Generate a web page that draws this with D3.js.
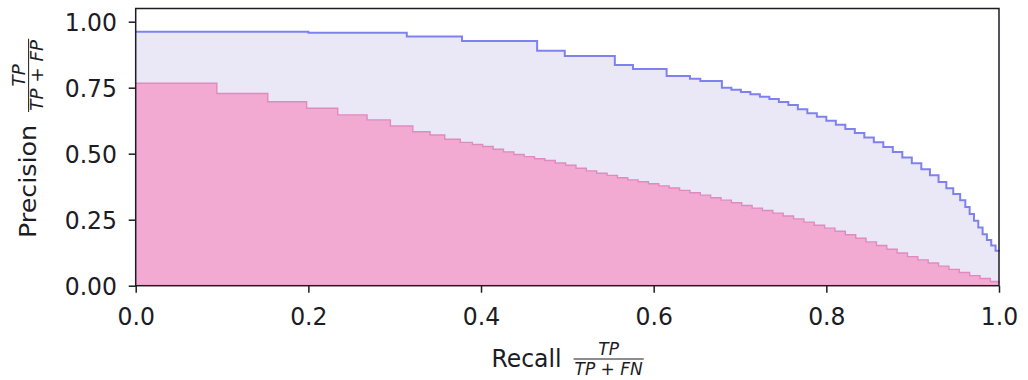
<!DOCTYPE html>
<html>
<head>
<meta charset="utf-8">
<script src="https://cdn.jsdelivr.net/npm/d3@7"></script>
<style>
  html, body { margin: 0; padding: 0; background: #fff; }
  svg { display: block; }
  text { font-family: "DejaVu Sans", sans-serif; fill: #1c1c24; }
</style>
</head>
<body>
<svg id="chart"></svg>
<script>
// upper curve (blue step, lavender fill)
const recallBlue = [0.000, 0.200, 0.314, 0.378, 0.465, 0.497, 0.555, 0.576, 0.615, 0.642,
  0.654, 0.679, 0.690, 0.701, 0.712, 0.723, 0.734, 0.745, 0.756, 0.767,
  0.778, 0.789, 0.800, 0.811, 0.822, 0.833, 0.844, 0.855, 0.866, 0.877,
  0.888, 0.899, 0.910, 0.920, 0.930, 0.939, 0.947, 0.955, 0.961, 0.966,
  0.971, 0.976, 0.981, 0.986, 0.991, 0.996, 1.000];
const precisionBlue = [0.962, 0.958, 0.944, 0.927, 0.890, 0.870, 0.836, 0.821, 0.794, 0.784,
  0.775, 0.750, 0.742, 0.734, 0.725, 0.716, 0.707, 0.696, 0.684, 0.668,
  0.653, 0.640, 0.625, 0.610, 0.594, 0.578, 0.561, 0.543, 0.525, 0.506,
  0.486, 0.464, 0.441, 0.418, 0.393, 0.369, 0.347, 0.324, 0.298, 0.272,
  0.246, 0.220, 0.195, 0.173, 0.152, 0.132, 0.130];

// lower curve (pink)
const recallPink = [0.000, 0.094, 0.153, 0.198, 0.234, 0.268, 0.295, 0.321, 0.341, 0.358,
  0.376, 0.390, 0.402, 0.414, 0.426, 0.438, 0.450, 0.462, 0.474, 0.486,
  0.498, 0.510, 0.522, 0.534, 0.546, 0.558, 0.570, 0.582, 0.594, 0.606,
  0.618, 0.630, 0.642, 0.654, 0.666, 0.678, 0.690, 0.702, 0.714, 0.726,
  0.738, 0.750, 0.762, 0.774, 0.786, 0.798, 0.810, 0.822, 0.834, 0.846,
  0.858, 0.870, 0.882, 0.894, 0.906, 0.918, 0.930, 0.942, 0.954, 0.966,
  0.978, 0.990, 1.000];
const precisionPink = [0.767, 0.728, 0.697, 0.672, 0.647, 0.628, 0.605, 0.583, 0.571, 0.555,
  0.543, 0.535, 0.527, 0.517, 0.507, 0.497, 0.489, 0.481, 0.474, 0.465,
  0.456, 0.445, 0.435, 0.426, 0.418, 0.409, 0.401, 0.394, 0.386, 0.378,
  0.370, 0.361, 0.352, 0.343, 0.333, 0.324, 0.314, 0.304, 0.294, 0.285,
  0.275, 0.264, 0.253, 0.241, 0.229, 0.218, 0.206, 0.193, 0.180, 0.166,
  0.152, 0.138, 0.124, 0.110, 0.098, 0.086, 0.074, 0.062, 0.050, 0.038,
  0.027, 0.016, 0.008];

const xTicks = [0, 0.2, 0.4, 0.6, 0.8, 1.0];
const yTicks = [0, 0.25, 0.5, 0.75, 1.0];

const width = 1028, height = 380;
const plot = {left: 135.7, right: 999, top: 8.5, bottom: 285.7};
const stretch = 1.08;   // the picture's text is a little taller than wide
const fontSize = 23.5;

const svg = d3.select('#chart').attr('width', width).attr('height', height);

const x = d3.scaleLinear().domain([0, 1]).range([plot.left, plot.right]);
const y = d3.scaleLinear().domain([0, 1.05]).range([plot.bottom, plot.top]);

const blue = recallBlue.map((r, i) => ({r: r, p: precisionBlue[i]}));
const pink = recallPink.map((r, i) => ({r: r, p: precisionPink[i]}));

const area = d3.area()
  .curve(d3.curveStepAfter)
  .x(d => x(d.r))
  .y0(y(0))
  .y1(d => y(d.p));
const line = d3.line()
  .curve(d3.curveStepAfter)
  .x(d => x(d.r))
  .y(d => y(d.p));

svg.append('path').datum(blue).attr('d', area).attr('fill', '#eae8f7');
svg.append('path').datum(blue).attr('d', line)
  .attr('fill', 'none').attr('stroke', '#7f82ee').attr('stroke-width', 2);

svg.append('path').datum(pink).attr('d', area).attr('fill', '#f2aad3');
svg.append('path').datum(pink).attr('d', line)
  .attr('fill', 'none').attr('stroke', '#de8cc0').attr('stroke-width', 1.4);

// axes
const xAxis = svg.append('g')
  .attr('transform', `translate(0,${plot.bottom})`)
  .call(d3.axisBottom(x).tickValues(xTicks).tickSize(7).tickFormat(d3.format('.1f')));
const yAxis = svg.append('g')
  .attr('transform', `translate(${plot.left},0)`)
  .call(d3.axisLeft(y).tickValues(yTicks).tickSize(7).tickFormat(d3.format('.2f')));

[xAxis, yAxis].forEach(a => {
  a.select('.domain').remove();
  a.selectAll('line').attr('stroke', '#1c1c24').attr('stroke-width', 1.5);
  a.selectAll('text').style('font-size', fontSize + 'px').attr('fill', '#1c1c24');
});
xAxis.selectAll('text')
  .attr('y', null).attr('dy', null)
  .attr('transform', `translate(0,38.8) scale(1,${stretch})`);
yAxis.selectAll('text')
  .attr('x', null).attr('dy', null)
  .attr('transform', `translate(-18.7,9.2) scale(1,${stretch})`);

// spines
svg.append('rect')
  .attr('x', plot.left).attr('y', plot.top)
  .attr('width', plot.right - plot.left).attr('height', plot.bottom - plot.top)
  .attr('fill', 'none').attr('stroke', '#1c1c24').attr('stroke-width', 1.5);

// label with a fraction after it: word, numerator / denominator
function fracLabel(g, word, num, den) {
  const w = g.append('text').attr('x', 0).attr('y', 0)
    .style('font-size', fontSize + 'px').text(word);
  const fx = w.node().getComputedTextLength() + 12;
  const n = g.append('text').attr('y', -11).attr('text-anchor', 'middle')
    .style('font-size', '17px').style('font-style', 'italic').text(num);
  const dn = g.append('text').attr('y', 7.2).attr('text-anchor', 'middle')
    .style('font-size', '17px').style('font-style', 'italic').text(den);
  const fw = Math.max(n.node().getComputedTextLength(), dn.node().getComputedTextLength()) + 2;
  n.attr('x', fx + fw / 2);
  dn.attr('x', fx + fw / 2);
  g.append('line')
    .attr('x1', fx).attr('x2', fx + fw)
    .attr('y1', -7.4).attr('y2', -7.4)
    .attr('stroke', '#1c1c24').attr('stroke-width', 1);
}

fracLabel(svg.append('g').attr('transform', `translate(491.5,367) scale(1,${stretch})`),
  'Recall', 'TP', 'TP + FN');
fracLabel(svg.append('g').attr('transform', `translate(36,238) rotate(-90) scale(${stretch},1)`),
  'Precision', 'TP', 'TP + FP');
</script>
</body>
</html>
